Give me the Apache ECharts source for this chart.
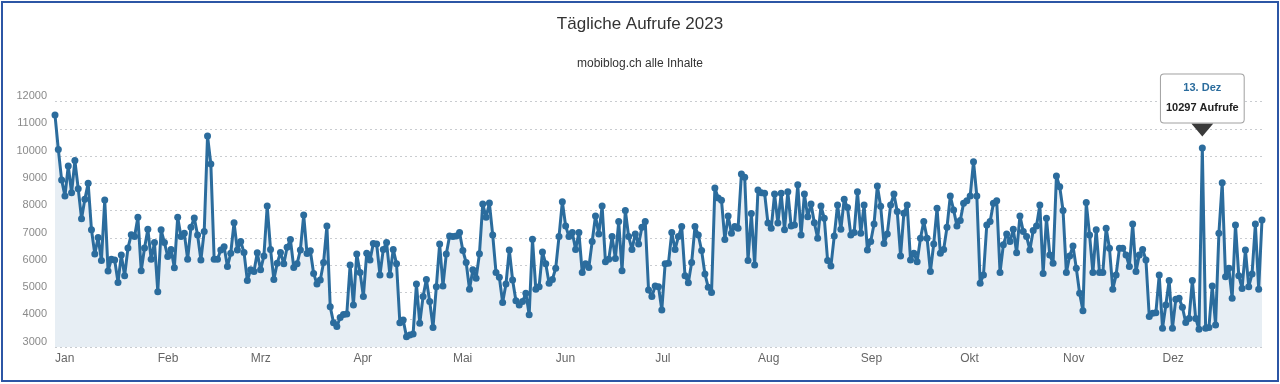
<!DOCTYPE html>
<html>
<head>
<meta charset="utf-8">
<script src="https://cdn.jsdelivr.net/npm/echarts@6/dist/echarts.min.js"></script>
<style>
html,body{margin:0;padding:0;background:#fff;}
#wrap{position:relative;width:1280px;height:384px;}
#chart{position:absolute;left:0;top:0;width:1280px;height:384px;}
#frame{position:absolute;left:1px;top:1px;width:1274px;height:377px;border:2px solid #2c56a5;pointer-events:none;}
</style>
</head>
<body>
<div id="wrap"><div id="chart"></div><div id="frame"></div></div>
<script>
const titleText = 'Tägliche Aufrufe 2023';
const subtitleText = 'mobiblog.ch alle Inhalte';
const monthNames = ['Jan','Feb','Mrz','Apr','Mai','Jun','Jul','Aug','Sep','Okt','Nov','Dez'];
const yTicks = [3000,4000,5000,6000,7000,8000,9000,10000,11000,12000];
const highlightLabel = '13. Dez';
const unitLabel = 'Aufrufe';

const jan = [11510,10250,9130,8540,9640,8660,9840,8810,7710,8420,9010,7300,6410,7020,6170,8390,5790,6220,6190,5370,6380,5610,6630,7120,7050,7760,5800,6630,7320,6220,6830];
const feb = [5030,7300,6830,6320,6580,5910,7760,7050,7170,6220,7390,7730,7110,6190,7240,10740,9710,6220,6220,6560,6680,5950,6440,7560,6560,6870,6470,5440];
const mar = [5830,5770,6460,5830,6340,8170,6580,5480,6070,6470,6050,6660,6940,5920,6050,6560,7840,6430,6530,5700,5310,5460,6100,7440,4480,3890,3750,4080,4190,4210,6010];
const apr = [4540,6410,5730,4850,6440,6190,6800,6780,5640,6580,6830,5640,6580,6050,3890,3990,3380,3440,3480,5310,3870,4850,5480,4670,3720,5210,6780,5240,6410,7070];
const mai = [7050,7070,7200,6540,6100,5120,5830,5520,6420,8250,7760,8280,7110,5730,5560,4630,5310,6560,5460,4700,4540,4670,4970,4180,6950,5120,5210,6490,6050,5340,5480];
const jun = [5890,7050,8330,7440,7050,7200,6580,7200,5730,6050,5920,6870,7810,7150,8170,6130,6220,7050,6250,7600,5800,8010,7050,6580,7150,6780,7390,7600,5090,4850];
const jul = [5240,5210,4360,6050,6070,7200,6580,7050,7420,5610,5360,6100,7420,7110,6540,5680,5190,5000,8830,8470,8380,6940,7810,7170,7420,7360,9350,9230,6170,7900,6010];
const aug = [8760,8660,8640,7550,7360,8610,7550,8640,7300,8700,7440,7480,8950,7110,8610,7780,8250,7560,6990,8170,7720,6170,5970,7070,8210,7320,8420,8120,7110,7200,8700];
const sep = [7170,8210,6560,6870,7510,8910,8160,6800,7150,8210,8610,7970,6340,7910,8210,6190,6440,6130,6990,7600,6990,5770,6780,8090,6440,6580,7390,8540,8030,7440];
const okt = [7640,8270,8370,8540,9800,8540,5340,5640,7480,7600,8270,8370,5730,6750,7150,6870,7320,6460,7810,7240,7050,6560,7270,7440,8210,5700,7720,6380,6070,9270,8880];
const nov = [8010,5730,6340,6710,5890,4970,4330,8300,7110,5730,7300,5730,5730,7360,6620,5120,5640,6620,6620,6380,5950,7510,5770,6380,6580,6190,4120,4240,4260,5640];
const dez = [3690,4540,5440,3690,4750,4790,4460,3900,4050,5440,4050,3650,10297,3690,3720,5240,3810,7170,9030,5580,5890,4790,7480,5610,5150,6560,5210,5680,7510,5120,7660];

const monthValues = [jan,feb,mar,apr,mai,jun,jul,aug,sep,okt,nov,dez];
const categories = [];
const values = [];
monthValues.forEach((arr, m) => {
  arr.forEach((v, i) => { categories.push((i + 1) + '. ' + monthNames[m]); values.push(v); });
});
const hlIndex = categories.indexOf(highlightLabel);

const font = 'Liberation Sans, Arial, Helvetica, sans-serif';
const chart = echarts.init(document.getElementById('chart'), null, {renderer: 'canvas'});
chart.setOption({
  animation: false,
  backgroundColor: '#fff',
  textStyle: {fontFamily: font},
  title: [
    {text: titleText, left: 'center', top: 11, textStyle: {fontSize: 17, fontWeight: 'normal', color: '#333', fontFamily: font}},
    {text: subtitleText, left: 'center', top: 53, textStyle: {fontSize: 12, fontWeight: 'normal', color: '#333', fontFamily: font}}
  ],
  grid: {left: 55, right: 18, top: 101.7, bottom: 37, containLabel: false},
  xAxis: {
    type: 'category',
    data: categories,
    boundaryGap: false,
    axisLine: {show: false},
    axisTick: {show: false},
    splitLine: {show: false},
    axisLabel: {
      interval: (idx, val) => val.indexOf('1. ') === 0,
      formatter: (val) => val.split(' ')[1],
      align: 'left',
      margin: 6,
      color: '#666',
      fontSize: 12,
      fontFamily: font
    }
  },
  yAxis: {
    type: 'value',
    min: yTicks[0],
    max: yTicks[yTicks.length - 1],
    interval: 1000,
    axisLine: {show: false},
    axisTick: {show: false},
    axisLabel: {color: '#8a8a8a', fontSize: 11, margin: 8, verticalAlign: 'bottom', fontFamily: font, formatter: (v) => String(v)},
    splitLine: {show: true, lineStyle: {color: '#c9ccd0', type: [2, 3], width: 1}}
  },
  series: [{
    type: 'line',
    data: values,
    symbol: 'circle',
    symbolSize: 7,
    showSymbol: true,
    showAllSymbol: true,
    sampling: null,
    lineStyle: {color: '#2b6c9d', width: 3},
    itemStyle: {color: '#2b6c9d'},
    areaStyle: {color: '#e7eef4', opacity: 1},
    emphasis: {disabled: true},
    silent: true,
    markPoint: {
      silent: true,
      symbol: 'path://M0,0L22,0L11,13Z',
      symbolSize: [22, 13],
      symbolOffset: [0, -18],
      itemStyle: {color: '#3a3a3a'},
      label: {
        show: true,
        position: 'top',
        distance: 1,
        backgroundColor: '#fff',
        borderColor: '#a0a0a0',
        borderWidth: 1,
        borderRadius: 3,
        padding: [3, 5, 5, 5],
        align: 'center',
        formatter: (p) => '{a|' + categories[hlIndex] + '}\n{b|' + values[hlIndex] + ' ' + unitLabel + '}',
        rich: {
          a: {color: '#2b6c9d', fontWeight: 'bold', fontSize: 11, lineHeight: 20, align: 'center', fontFamily: font},
          b: {color: '#222', fontWeight: 'bold', fontSize: 11, lineHeight: 20, align: 'center', fontFamily: font}
        }
      },
      data: [{coord: [hlIndex, values[hlIndex]], value: values[hlIndex]}]
    }
  }]
});
</script>
</body>
</html>
